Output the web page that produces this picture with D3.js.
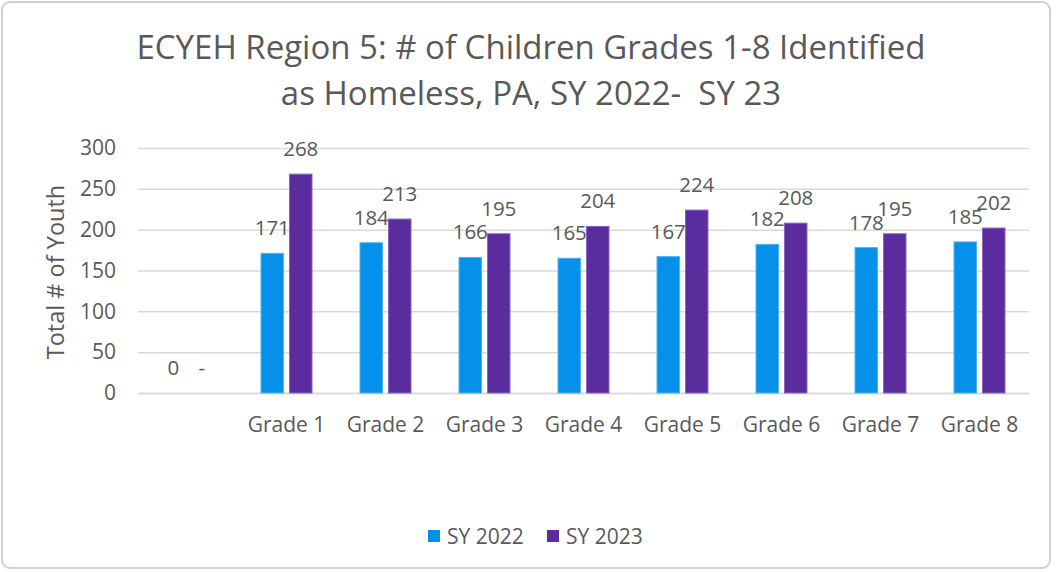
<!DOCTYPE html>
<html>
<head>
<meta charset="utf-8">
<script src="https://cdn.jsdelivr.net/npm/d3@7"></script>
<style>
  body { margin: 0; background: #fff; }
  text { font-family: "Open Sans", sans-serif; fill: #595959; }
</style>
</head>
<body>
<div id="chart"></div>
<script>
// data
var categories = ["", "Grade 1", "Grade 2", "Grade 3", "Grade 4", "Grade 5", "Grade 6", "Grade 7", "Grade 8"];
var seriesNames = ["SY 2022", "SY 2023"];
var sy2022 = [0, 171, 184, 166, 165, 167, 182, 178, 185];
var sy2023 = [null, 268, 213, 195, 204, 224, 208, 195, 202];
var yTicks = [0, 50, 100, 150, 200, 250, 300];
var colors = ["#0590ea", "#5b2c9e"];
var titleLines = ["ECYEH Region 5: # of Children Grades 1-8 Identified", "as Homeless, PA, SY 2022-  SY 23"];

var W = 1058, H = 572;
var svg = d3.select("#chart").append("svg")
            .attr("width", W)
            .attr("height", H);

// chart frame
svg.append("rect")
   .attr("x", 2).attr("y", 2)
   .attr("width", W - 10).attr("height", H - 6)
   .attr("rx", 8)
   .attr("fill", "#fff")
   .attr("stroke", "#d0d0d0")
   .attr("stroke-width", 2);

var plot = { left: 138, right: 1029, top: 148, bottom: 393 };

var x0 = d3.scaleBand().domain(categories).range([plot.left, plot.right]).padding(0);
var x1 = d3.scaleBand().domain(seriesNames).range([-25.5, 25.5]).paddingInner(0.21);
var y = d3.scaleLinear().domain([0, 300]).range([plot.bottom, plot.top]);

// gridlines
svg.append("g")
   .attr("transform", "translate(" + plot.left + ",0)")
   .call(d3.axisLeft(y).tickValues(yTicks).tickSize(-(plot.right - plot.left)).tickFormat(""))
   .call(function(g) { g.select(".domain").remove(); })
   .selectAll("line")
   .attr("stroke", "#d9d9d9")
   .attr("stroke-width", 1.5);

// y tick labels
var yAxis = svg.append("g")
   .attr("transform", "translate(" + (plot.left - 22) + ",0)")
   .call(d3.axisLeft(y).tickValues(yTicks).tickSize(0).tickPadding(0));
yAxis.select(".domain").remove();
yAxis.selectAll("text")
     .style("font-size", "21px")
     .style("font-family", "Open Sans, sans-serif")
     .attr("fill", "#595959");

// x axis labels
var xAxis = svg.append("g")
   .attr("transform", "translate(0," + plot.bottom + ")")
   .call(d3.axisBottom(x0).tickSize(0).tickPadding(24));
xAxis.select(".domain").attr("stroke", "#d9d9d9").attr("stroke-width", 1.5);
xAxis.selectAll("text")
     .style("font-size", "21px")
     .style("font-family", "Open Sans, sans-serif")
     .attr("fill", "#595959");

// bars
var rows = categories.map(function(c, i) {
  return { cat: c, vals: [sy2022[i], sy2023[i]] };
});

var groups = svg.selectAll(".grp")
   .data(rows)
   .enter()
   .append("g")
   .attr("class", "grp")
   .attr("transform", function(d) { return "translate(" + (x0(d.cat) + x0.bandwidth() / 2) + ",0)"; });

groups.selectAll("rect")
   .data(function(d) { return d.vals.map(function(v, j) { return { s: seriesNames[j], v: v, j: j }; }); })
   .enter()
   .append("rect")
   .attr("x", function(d) { return x1(d.s); })
   .attr("width", x1.bandwidth())
   .attr("y", function(d) { return y(d.v || 0); })
   .attr("height", function(d) { return y(0) - y(d.v || 0); })
   .attr("fill", function(d) { return colors[d.j]; })
   .attr("stroke", function(d) { return d.j == 0 ? "#4fb3f3" : "#8a66c0"; })
   .attr("stroke-width", 1);

groups.selectAll("text.lbl")
   .data(function(d) { return d.vals.map(function(v, j) { return { s: seriesNames[j], v: v, j: j }; }); })
   .enter()
   .append("text")
   .attr("class", "lbl")
   .attr("x", function(d) { return x1(d.s) + x1.bandwidth() / 2; })
   .attr("y", function(d) { return y(d.v || 0) - 18; })
   .attr("text-anchor", "middle")
   .style("font-size", "20.5px")
   .text(function(d) { return d.v == null ? "-" : d.v; });

// y axis title
svg.append("text")
   .attr("transform", "translate(64,272) rotate(-90)")
   .attr("text-anchor", "middle")
   .style("font-size", "23.5px")
   .text("Total # of Youth");

// title
svg.selectAll("text.title")
   .data(titleLines)
   .enter()
   .append("text")
   .attr("class", "title")
   .attr("x", 531)
   .attr("y", function(d, i) { return 59 + i * 46; })
   .attr("text-anchor", "middle")
   .style("font-size", "33px")
   .style("white-space", "pre")
   .text(function(d) { return d; });

// legend
var legend = svg.selectAll(".leg")
   .data(seriesNames)
   .enter()
   .append("g")
   .attr("class", "leg")
   .attr("transform", function(d, i) { return "translate(" + (428 + i * 119) + ",530)"; });

legend.append("rect")
   .attr("width", 12).attr("height", 12)
   .attr("fill", function(d, i) { return colors[i]; });

legend.append("text")
   .attr("x", 19)
   .attr("y", 14)
   .style("font-size", "21px")
   .text(function(d) { return d; });
</script>
</body>
</html>
